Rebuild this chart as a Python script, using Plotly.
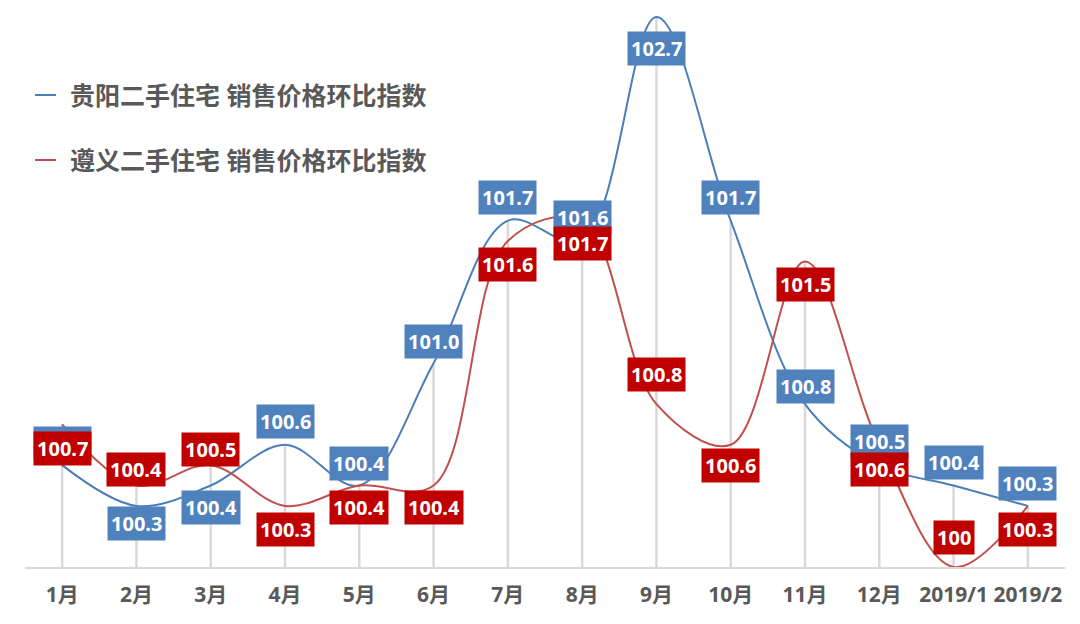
import plotly.graph_objects as go

categories = ["1月", "2月", "3月", "4月", "5月", "6月", "7月", "8月", "9月", "10月", "11月", "12月", "2019/1", "2019/2"]
guiyang = [100.5, 100.3, 100.4, 100.6, 100.4, 101.0, 101.7, 101.6, 102.7, 101.7, 100.8, 100.5, 100.4, 100.3]
zunyi = [100.7, 100.4, 100.5, 100.3, 100.4, 100.4, 101.6, 101.7, 100.8, 100.6, 101.5, 100.6, 100.0, 100.3]
guiyang_labels = ["100.7", "100.3", "100.4", "100.6", "100.4", "101.0", "101.7", "101.6", "102.7", "101.7", "100.8", "100.5", "100.4", "100.3"]
zunyi_labels = ["100.7", "100.4", "100.5", "100.3", "100.4", "100.4", "101.6", "101.7", "100.8", "100.6", "101.5", "100.6", "100", "100.3"]
series_names = ["贵阳二手住宅 销售价格环比指数", "遵义二手住宅 销售价格环比指数"]

# label placement (pixel offsets, style only)
blue_shift = [22, -18, -22, 23, 22, 22, 23, 24, -31, 23, 18, 24, 23, 22]
red_shift = [-24, 16, 16, -24, -22, -22, -23, -23, 30, -21, -23, -25, 30, -24]

BLUE_LINE = "#4a7ebb"
RED_LINE = "#c0504d"
BLUE_BOX = "#4f81bd"
RED_BOX = "#c00000"
GRID = "#d9d9d9"
TEXT = "#595959"
FONT = "Noto Sans, Noto Sans CJK SC"

base = 100.0
drop_top = [max(a, b) for a, b in zip(guiyang, zunyi)]

# page has an 8px body margin; size the figure to fit the 1080x624 window
OFF = 8
FIG_W, FIG_H = 1080 - OFF, 624 - OFF
M_L, M_R, M_T, M_B = 17, 15, 0, 57
PW = FIG_W - M_L - M_R
PH = FIG_H - M_T - M_B

def px(page_x):
    return (page_x - OFF - M_L) / PW

def py(page_y):
    return (OFF + M_T + PH - page_y) / PH

fig = go.Figure()
fig.add_trace(go.Scatter(
    x=categories, y=drop_top, mode="markers",
    marker=dict(size=1, opacity=0),
    error_y=dict(type="data", symmetric=False,
                 array=[0] * len(drop_top),
                 arrayminus=[v - base for v in drop_top],
                 width=0, thickness=2.5, color=GRID),
    hoverinfo="skip", showlegend=False,
))
fig.add_trace(go.Scatter(
    x=categories, y=guiyang, mode="lines", name=series_names[0],
    line=dict(color=BLUE_LINE, width=2, shape="spline", smoothing=1.0),
    showlegend=False,
))
fig.add_trace(go.Scatter(
    x=categories, y=zunyi, mode="lines", name=series_names[1],
    line=dict(color=RED_LINE, width=2, shape="spline", smoothing=1.0),
    showlegend=False,
))

annotations = []
for c, v, t, s in zip(categories, guiyang, guiyang_labels, blue_shift):
    annotations.append(dict(x=c, y=v, xref="x", yref="y", text=f"<b>{t}</b>", showarrow=False,
                            yshift=s, bgcolor=BLUE_BOX, borderpad=3,
                            font=dict(family=FONT, size=20, color="white")))
for c, v, t, s in zip(categories, zunyi, zunyi_labels, red_shift):
    annotations.append(dict(x=c, y=v, xref="x", yref="y", text=f"<b>{t}</b>", showarrow=False,
                            yshift=s, bgcolor=RED_BOX, borderpad=3,
                            font=dict(family=FONT, size=20, color="white")))

shapes = []
for name, col, ypix in [(series_names[0], BLUE_LINE, 95), (series_names[1], RED_LINE, 160)]:
    shapes.append(dict(type="line", xref="paper", yref="paper", x0=px(35), x1=px(56), y0=py(ypix), y1=py(ypix),
                       line=dict(color=col, width=2)))
    annotations.append(dict(x=px(68), y=py(ypix), xref="paper", yref="paper", xanchor="left", yanchor="middle",
                            text=f"<b>{name}</b>", showarrow=False,
                            font=dict(family=FONT, size=25, color=TEXT)))

# 100 at page y=567, 102.7 at page y=17
unit_px = (567 - 17) / 2.7
y_top = base + PH / unit_px

fig.update_layout(
    width=FIG_W, height=FIG_H,
    margin=dict(l=M_L, r=M_R, t=M_T, b=M_B),
    paper_bgcolor="white", plot_bgcolor="white",
    annotations=annotations, shapes=shapes,
    showlegend=False,
    xaxis=dict(type="category", range=[-0.5, 13.5], showgrid=False, zeroline=False,
               showline=True, linecolor=GRID, linewidth=1.5, ticks="", automargin=False,
               tickfont=dict(family=FONT, size=21, color=TEXT), ticklabelstandoff=8,
               tickvals=categories, ticktext=[f"<b>{c}</b>" for c in categories]),
    yaxis=dict(range=[base, y_top], showgrid=False, zeroline=False, showticklabels=False,
               showline=False, ticks="", automargin=False),
)

fig.write_html("out.html")
